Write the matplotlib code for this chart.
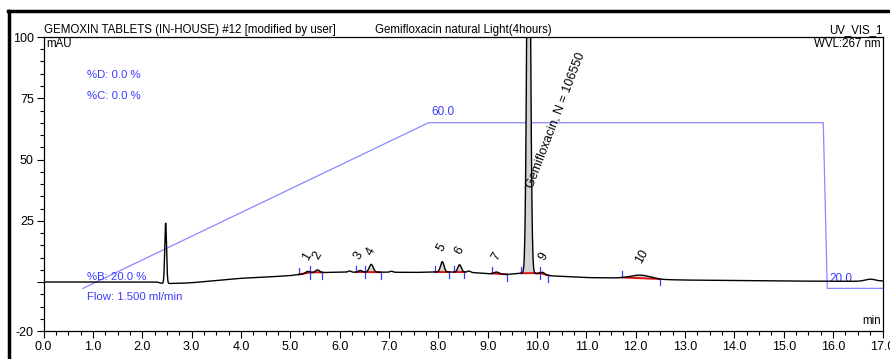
import numpy as np
import matplotlib.pyplot as plt
from matplotlib.lines import Line2D

plt.rcParams['font.family'] = ['Liberation Sans', 'DejaVu Sans']

# baseline of the trace (min, mAU)
base_t = [0.0, 1.8, 2.3, 2.38, 2.57, 2.8, 3.0, 3.4, 4.0, 4.5, 5.0, 5.15, 5.45, 6.0,
          7.0, 7.5, 8.0, 8.6, 9.0, 9.4, 9.7, 10.0, 10.3, 11.0, 11.7, 12.5, 13.0,
          14.0, 15.0, 16.0, 16.5, 17.0]
base_y = [0.0, 0.0, 0.0, -0.5, -0.6, -0.5, -0.3, 0.4, 1.5, 2.0, 2.6, 3.0, 3.8, 4.0,
          4.0, 3.9, 4.1, 4.0, 3.4, 3.1, 3.6, 3.4, 2.5, 1.8, 1.6, 1.0, 0.8,
          0.6, 0.4, 0.3, 0.3, 0.4]

# peaks: retention time, height above baseline, width (sigma)
peak_rt = [2.475, 5.35, 5.55, 6.2, 6.42, 6.64, 7.05, 8.08, 8.43, 8.62, 9.18, 9.83, 10.11, 12.1, 16.75]
peak_h = [24.6, 0.8, 1.1, 0.5, 0.7, 3.2, 0.4, 4.2, 3.0, 0.5, 0.8, 200.0, 0.9, 1.5, 0.8]
peak_w = [0.018, 0.04, 0.04, 0.03, 0.04, 0.04, 0.03, 0.035, 0.035, 0.03, 0.05, 0.034, 0.04, 0.2, 0.1]

# integration windows (start, end) and labels
win_start = [5.18, 5.41, 6.33, 6.51, 7.94, 8.32, 9.09, 9.68, 10.06, 11.73]
win_end = [5.41, 5.65, 6.51, 6.83, 8.22, 8.53, 9.39, 10.06, 10.23, 12.49]
lab_text = ['1', '2', '3', '4', '5', '6', '7', None, '9', '10']
lab_x = [5.34, 5.55, 6.39, 6.64, 8.06, 8.42, 9.18, None, 10.14, 12.12]
lab_y = [10.6, 11.0, 11.0, 12.4, 14.1, 13.0, 10.3, None, 10.3, 10.3]

# gradient program (%B)
grad_t = [0.8, 7.8, 15.8, 15.88, 17.0]
grad_b = [20.0, 60.0, 60.0, 20.0, 20.0]

t = np.linspace(0, 17, 8000)
y = np.interp(t, base_t, base_y)
for rt, h, w in zip(peak_rt, peak_h, peak_w):
    y = y + h * np.exp(-0.5 * ((t - rt) / w) ** 2)

fig = plt.figure(figsize=(8.9, 3.59), dpi=100)
ax = fig.add_axes([43.5 / 890, 28 / 359, 839 / 890, 294 / 359])
ax.set_xlim(0, 17)
ax.set_ylim(-20, 100)

blue = '#3a3aff'

# gradient overlay, %B mapped onto mAU axis
gy = [-2.6 + (b - 20) * 1.69 for b in grad_b]
ax.plot(grad_t, gy, color='#8888ff', lw=0.9, zorder=1)
ax.text(7.86, 67, '60.0', color=blue, fontsize=8.5, va='bottom')
ax.text(15.93, -1.3, '20.0', color=blue, fontsize=8.5, va='bottom')

# integration: fill, red baselines, blue delimiters
for i, (s, e) in enumerate(zip(win_start, win_end)):
    ys = np.interp(s, t, y)
    ye = np.interp(e, t, y)
    m = (t >= s) & (t <= e)
    line = ys + (ye - ys) * (t[m] - s) / (e - s)
    ax.fill_between(t[m], line, y[m], color='#d4d4d4', lw=0, zorder=2)
    ax.plot([s, e], [ys, ye], color='#e01010', lw=1.4, zorder=3)
    ax.plot([s, s], [ys, ys + 2.6], color=blue, lw=0.9, zorder=4)
    ax.plot([e, e], [ye, ye - 2.6], color=blue, lw=0.9, zorder=4)
    if lab_text[i]:
        ax.text(lab_x[i], lab_y[i], lab_text[i], rotation=60, fontsize=9,
                ha='center', va='center')

ax.plot(t, y, color='black', lw=1.0, zorder=5)
ax.text(9.91, 38, 'Gemifloxacin, N = 106550', rotation=69, fontsize=9,
        ha='left', va='baseline', rotation_mode='anchor', zorder=6)

# method annotations
ax.text(0.88, 84.5, '%D: 0.0 %', color=blue, fontsize=8.2, va='center')
ax.text(0.88, 76, '%C: 0.0 %', color=blue, fontsize=8.2, va='center')
ax.text(0.88, 2.0, '%B: 20.0 %', color=blue, fontsize=8.2, va='center')
ax.text(0.88, -6.0, 'Flow: 1.500 ml/min', color=blue, fontsize=8.2, va='center')

# headers
hdr = dict(transform=ax.transAxes, fontsize=8.3)
ax.text(0.0, 1.003, 'GEMOXIN TABLETS (IN-HOUSE) #12 [modified by user]',
        va='bottom', ha='left', **hdr)
ax.text(0.5, 1.003, 'Gemifloxacin natural Light(4hours)',
        va='bottom', ha='center', **hdr)
ax.text(1.0, 1.003, 'UV_VIS_1', va='bottom', ha='right', **hdr)
ax.text(0.003, 0.995, 'mAU', va='top', **hdr)
ax.text(0.998, 0.995, 'WVL:267 nm', va='top', ha='right', **hdr)
ax.text(0.998, 0.015, 'min', va='bottom', ha='right', **hdr)

ax.set_xticks(np.arange(0, 17.01, 1.0))
ax.set_xticklabels([f'{v:.1f}' for v in np.arange(0, 17.01, 1.0)])
ax.set_xticks(np.arange(0, 17.01, 0.25), minor=True)
ax.set_yticks([-20, 0, 25, 50, 75, 100])
ax.set_yticklabels(['-20', '', '25', '50', '75', '100'])
ax.set_yticks(np.arange(-20, 100.1, 5), minor=True)
ax.tick_params(axis='both', which='major', length=5, width=0.8, labelsize=9, pad=2)
ax.tick_params(axis='both', which='minor', length=3, width=0.8)
for sp in ax.spines.values():
    sp.set_linewidth(0.9)

# outer frame of the report
fig.add_artist(Line2D([8 / 890, 1], [1 - 11 / 359, 1 - 11 / 359], color='black', lw=2.5))
fig.add_artist(Line2D([9 / 890, 9 / 890], [0, 1 - 11 / 359], color='black', lw=2.5))

fig.savefig('out.png', dpi=100)
